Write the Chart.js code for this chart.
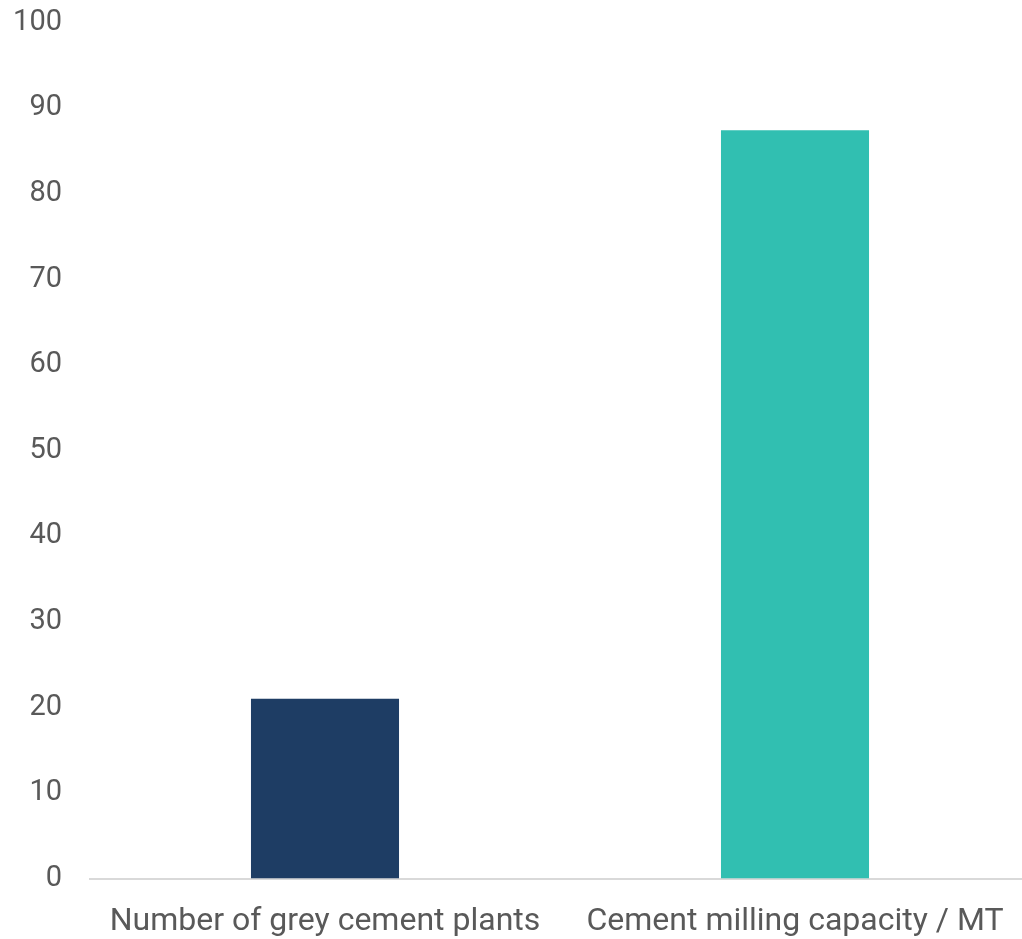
<!DOCTYPE html>
<html>
<head>
<meta charset="utf-8">
<script src="https://cdn.jsdelivr.net/npm/chart.js@4/dist/chart.umd.min.js"></script>
<style>
html,body{margin:0;padding:0;background:#fff;overflow:hidden;}
#wrap{position:absolute;left:0;top:-23px;width:1030px;height:968px;}
</style>
</head>
<body>
<div id="wrap"><canvas id="c"></canvas></div>
<script>
const categories = ["Number of grey cement plants", "Cement milling capacity / MT"];
const values = [21, 87.4];
const barColors = ["#1e3d64", "#31bfb1"];
const yTicks = {min: 0, max: 100, step: 10};

new Chart(document.getElementById('c'), {
  type: 'bar',
  data: {
    labels: categories,
    datasets: [{
      data: values,
      backgroundColor: barColors,
      borderWidth: 0,
      barPercentage: 0.315,
      categoryPercentage: 1.0
    }]
  },
  options: {
    responsive: true,
    maintainAspectRatio: false,
    animation: false,
    layout: {padding: {top: -18, right: 0, bottom: -20, left: 0}},
    plugins: {legend: {display: false}, tooltip: {enabled: false}},
    scales: {
      x: {
        grid: {display: false, drawTicks: false},
        border: {display: true, color: '#d9d9d9', width: 2},
        ticks: {color: '#595959', font: {family: 'Roboto', size: 32}, padding: 24, maxRotation: 0, autoSkip: false}
      },
      y: {
        min: yTicks.min, max: yTicks.max,
        grid: {display: false, drawTicks: false},
        border: {display: false},
        ticks: {stepSize: yTicks.step, color: '#595959', font: {family: 'Roboto', size: 29}, padding: 28},
        afterFit: (s) => { s.width = 90; }
      }
    }
  }
});
</script>
</body>
</html>
